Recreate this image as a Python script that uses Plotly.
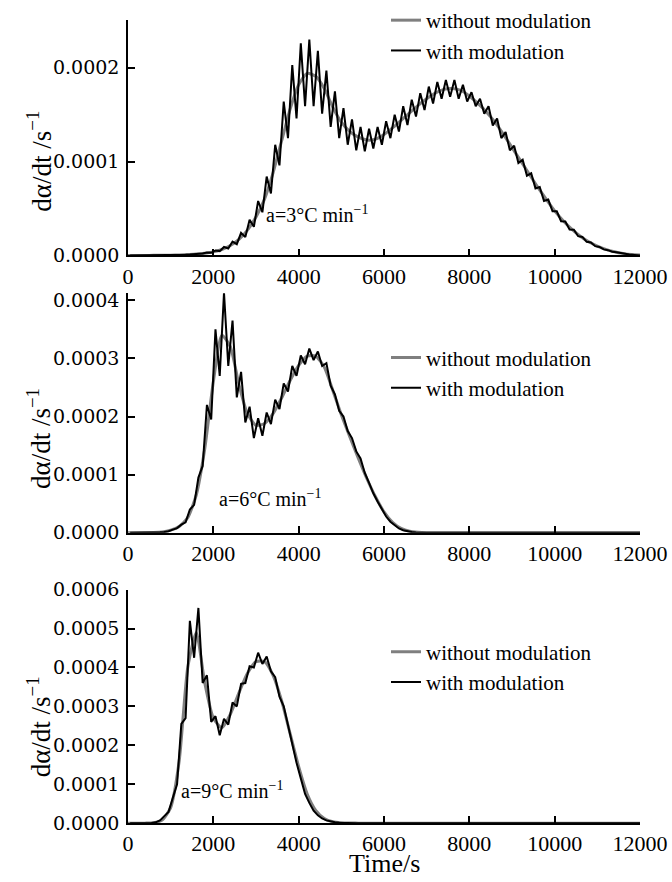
import numpy as np
import plotly.graph_objects as go

# ---------------- data (rates in units of 1e-5 s^-1) ----------------
# modulated curves sampled every 100 s starting at 50 s
mod_t0, mod_dt = 50, 100
mod3_e5 = [0, 0, 0, 0, 0, 0.01, 0.01, 0.02, 0.02, 0.03,
           0.04, 0.05, 0.06, 0.08, 0.10, 0.12, 0.16, 0.21, 0.32, 0.28,
           0.53, 0.46, 0.90, 0.74, 1.48, 1.20, 2.40, 1.95, 3.80, 3.05,
           5.80, 4.60, 8.40, 6.60, 11.8, 9.6, 16.4, 12.5, 20.3, 14.6,
           22.6, 15.9, 23.0, 15.9, 21.8, 15.1, 19.7, 13.7, 17.5, 12.5,
           15.7, 11.8, 14.5, 11.2, 13.7, 11.1, 13.5, 11.4, 13.7, 11.8,
           14.3, 12.5, 15.0, 13.2, 15.9, 13.9, 16.6, 14.8, 17.3, 15.5,
           18.0, 16.2, 18.5, 16.7, 18.7, 16.9, 18.7, 16.7, 18.2, 16.4,
           17.4, 15.9, 16.7, 15.1, 15.9, 13.85, 14.6, 12.5, 13.15, 11.2,
           11.7, 9.85, 10.2, 8.5, 8.75, 7.15, 7.3, 5.8, 5.95, 4.7,
           4.7, 3.65, 3.62, 2.75, 2.73, 2.05, 1.97, 1.45, 1.38, 0.99,
           0.90, 0.64, 0.56, 0.39, 0.33, 0.22, 0.17, 0.10, 0.07, 0.04]
mod6_e5 = [0, 0, 0, 0, 0, 0.02, 0.04, 0.08, 0.15, 0.28,
           0.55, 0.80, 1.40, 1.80, 4.0, 4.8, 9.5, 11.5, 22.0, 19.5,
           35.0, 27.0, 41.3, 28.7, 36.5, 23.3, 27.7, 19.0, 21.7, 16.3,
           19.7, 16.7, 20.7, 18.7, 22.9, 21.3, 25.7, 24.3, 28.7, 27.0,
           30.5, 29.0, 31.7, 29.7, 31.2, 28.7, 29.2, 25.3, 23.8, 21.0,
           20.0, 17.5, 16.3, 14.0, 12.8, 10.3, 8.6, 6.8, 5.4, 4.0,
           2.8, 1.9, 1.25, 0.75, 0.45, 0.25, 0.13, 0.06, 0.03, 0.01]
mod9_e5 = [0, 0, 0, 0, 0, 0.05, 0.2, 0.7, 1.8, 2.9,
           6.5, 10.0, 25.5, 27.0, 52.0, 42.5, 55.3, 36.0, 38.0, 26.0,
           27.5, 22.6, 26.8, 25.3, 31.0, 30.0, 35.8, 36.0, 40.3, 40.0,
           43.8, 40.9, 42.8, 39.0, 37.5, 32.5, 30.0, 25.0, 20.5, 15.5,
           11.5, 7.5, 5.2, 3.2, 2.0, 1.2, 0.7, 0.4, 0.25, 0.12,
           0.05, 0.02, 0, 0]

# curves without modulation sampled every 200 s starting at 0 s
base_dt = 200
base3_e5 = [0, 0, 0, 0.01, 0.02, 0.03, 0.05, 0.09, 0.14, 0.24,
            0.38, 0.63, 1.05, 1.7, 2.7, 4.1, 6.0, 8.8, 12.2, 15.6,
            18.2, 19.4, 19.1, 17.8, 15.8, 14.2, 13.2, 12.6, 12.3, 12.4,
            12.9, 13.6, 14.4, 15.2, 16.0, 16.7, 17.3, 17.7, 17.8, 17.6,
            17.0, 16.2, 15.3, 14.2, 12.9, 11.5, 10.1, 8.7, 7.3, 6.0,
            4.75, 3.7, 2.8, 2.05, 1.45, 1.0, 0.65, 0.4, 0.22, 0.1, 0.04]
base6_e5 = [0, 0, 0, 0.03, 0.12, 0.45, 1.1, 2.6, 6.5, 14.5,
            26.0, 34.0, 32.0, 25.5, 20.5, 18.5, 18.8, 20.5, 23.2, 26.2,
            28.8, 30.4, 30.4, 28.5, 24.5, 20.3, 16.5, 12.8, 9.3, 6.2,
            3.6, 1.8, 0.75, 0.25, 0.08, 0.02]
base9_e5 = [0, 0, 0, 0.1, 0.8, 4.0, 16.0, 40.0, 49.0, 36.0,
            27.0, 24.5, 28.0, 33.5, 38.5, 41.5, 41.5, 38.0, 31.5, 23.0,
            14.5, 7.5, 3.3, 1.2, 0.35, 0.1, 0.02, 0]
tail_t, tail_v = 12000, 0.0   # curves stay at zero to the end of the axis

panel_labels = ["a=3°C min<sup>−1</sup>", "a=6°C min<sup>−1</sup>", "a=9°C min<sup>−1</sup>"]
label_pos = [(4430, 4.4e-5), (3350, 6.0e-5), (2440, 8.5e-5)]
y_ranges = [0.000251, 0.000412, 0.0006]
x_ticks = [0, 2000, 4000, 6000, 8000, 10000, 12000]

SERIF = "Liberation Serif"
GRAY = "#7f7f7f"

def mod_series(v):
    t = mod_t0 + mod_dt * np.arange(len(v))
    t = np.append(t, tail_t)
    y = np.append(np.array(v) * 1e-5, tail_v)
    return t, y

def base_series(v):
    t = base_dt * np.arange(len(v))
    if t[-1] < tail_t:
        t = np.append(t, tail_t)
        v = list(v) + [tail_v]
    return t, np.array(v) * 1e-5

fig = go.Figure()
mods = [mod3_e5, mod6_e5, mod9_e5]
bases = [base3_e5, base6_e5, base9_e5]
legends = ["legend", "legend2", "legend3"]
for i in range(3):
    ax = "" if i == 0 else str(i + 1)
    bt, by = base_series(bases[i])
    mt, my = mod_series(mods[i])
    fig.add_trace(go.Scatter(x=bt, y=by, mode="lines", name="without modulation",
                             line=dict(color=GRAY, width=3, shape="spline", smoothing=0.6),
                             xaxis="x" + ax, yaxis="y" + ax, legend=legends[i]))
    fig.add_trace(go.Scatter(x=mt, y=my, mode="lines", name="with modulation",
                             line=dict(color="black", width=2),
                             xaxis="x" + ax, yaxis="y" + ax, legend=legends[i]))

W, H = 672, 882
xdom = [128 / W, 640 / W]
ypix = [(18, 254), (292, 532), (589, 823)]
layout = dict(width=W, height=H, autosize=False,
              margin=dict(l=0, r=0, t=0, b=0),
              paper_bgcolor="white", plot_bgcolor="white",
              font=dict(family=SERIF, size=20, color="black"))

axis_common = dict(showline=True, linecolor="black", linewidth=1.5,
                   ticks="inside", ticklen=7, tickwidth=1.5, tickcolor="black",
                   showgrid=False, zeroline=False, automargin=False)
for i in range(3):
    ax = "" if i == 0 else str(i + 1)
    top, bot = ypix[i]
    layout["xaxis" + ax] = dict(axis_common, domain=xdom, range=[0, 12000],
                                tickvals=x_ticks, ticktext=[str(v) for v in x_ticks],
                                tickfont=dict(family=SERIF, size=22),
                                anchor="y" + ax)
    layout["yaxis" + ax] = dict(axis_common, domain=[1 - bot / H, 1 - top / H],
                                range=[0, y_ranges[i]], dtick=0.0001, tick0=0,
                                tickformat=".4f", ticklabelstandoff=3,
                                tickfont=dict(family="DejaVu Serif", size=19),
                                anchor="x" + ax)

leg_y = [-2, 336, 631]
for i, name in enumerate(legends):
    layout[name] = dict(x=386 / W, y=1 - leg_y[i] / H, xanchor="left", yanchor="top",
                        bgcolor="rgba(0,0,0,0)", font=dict(family=SERIF, size=21),
                        tracegroupgap=0, itemwidth=30)

annotations = []
title_y = [160, 438, 727]
for i in range(3):
    ax = "" if i == 0 else str(i + 1)
    annotations.append(dict(text=panel_labels[i], x=label_pos[i][0], y=label_pos[i][1],
                            xref="x" + ax, yref="y" + ax, showarrow=False,
                            font=dict(family=SERIF, size=20), xanchor="center", yanchor="middle"))
    annotations.append(dict(text="dα/dt /s<sup>−1</sup>", x=39 / W, y=1 - title_y[i] / H,
                            xref="paper", yref="paper", showarrow=False, textangle=-90,
                            font=dict(family=SERIF, size=27), xanchor="center", yanchor="middle"))
# x-axis title of the bottom panel
annotations.append(dict(text="Time/s", x=384 / W, y=0, xref="paper", yref="paper",
                        showarrow=False, xanchor="center", yanchor="bottom", yshift=2,
                        font=dict(family=SERIF, size=26)))
layout["annotations"] = annotations
fig.update_layout(**layout)
fig.write_html("out.html")
